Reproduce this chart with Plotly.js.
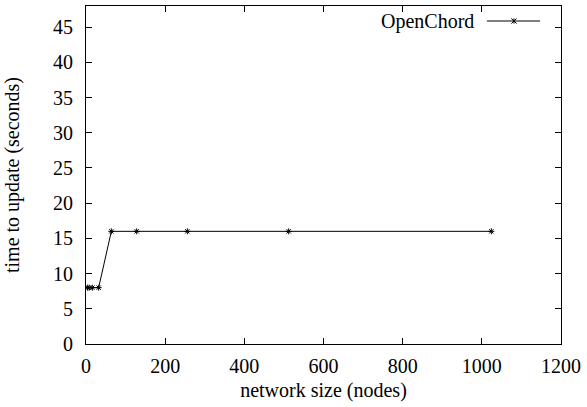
<!DOCTYPE html>
<html><head><meta charset="utf-8">
<script src="https://cdn.plot.ly/plotly-3.0.1.min.js"></script>
<style>body{margin:0;padding:0;background:#fff}#chart{width:587px;height:407px}</style>
</head><body><div id="chart"></div>
<script>
const seriesName = "OpenChord";
const networkSize = [4, 8, 16, 32, 64, 128, 256, 512, 1024];
const updateTime = [8, 8, 8, 8, 16, 16, 16, 16, 16];
const xTicks = [0, 200, 400, 600, 800, 1000, 1200];
const yTicks = [0, 5, 10, 15, 20, 25, 30, 35, 40, 45];

const font = {family: "Liberation Serif, Times New Roman, serif", size: 20, color: "#000"};

const trace = {
  x: networkSize, y: updateTime, type: "scatter", mode: "lines+markers",
  name: seriesName, showlegend: false,
  line: {color: "#000", width: 1},
  marker: {symbol: "asterisk-open", size: 5, color: "#000", line: {color: "#000", width: 1}}
};

const axisCommon = {
  showgrid: false, zeroline: false, showline: true, mirror: "ticks",
  linecolor: "#000", linewidth: 1, ticks: "inside", ticklen: 6, tickcolor: "#000",
  tickfont: font
};

const lx = 0.901, ly = 0.9556, dx = 0.0055, dy = 0.0077;
const layout = {
  width: 587, height: 407,
  margin: {l: 86, r: 26, t: 6, b: 63},
  paper_bgcolor: "#fff", plot_bgcolor: "#fff",
  font: font,
  xaxis: Object.assign({}, axisCommon, {
    range: [0, 1200], tickvals: xTicks, ticktext: xTicks.map(String),
    ticklabelstandoff: 4,
    title: {text: "network size (nodes)", font: font, standoff: 6}
  }),
  yaxis: Object.assign({}, axisCommon, {
    range: [0, 48], tickvals: yTicks, ticktext: yTicks.map(String),
    ticklabelstandoff: 8,
    title: {text: "time to update (seconds)", font: font, standoff: 28}
  }),
  annotations: [{
    xref: "paper", yref: "paper", x: 0.822, y: ly, xanchor: "right", yanchor: "middle",
    text: seriesName, showarrow: false, font: font
  }],
  shapes: [
    {type: "line", xref: "paper", yref: "paper", x0: 0.844, x1: 0.956, y0: ly, y1: ly, line: {color: "#000", width: 1}},
    {type: "line", xref: "paper", yref: "paper", x0: lx, x1: lx, y0: ly - dy, y1: ly + dy, line: {color: "#000", width: 1}},
    {type: "line", xref: "paper", yref: "paper", x0: lx - dx, x1: lx + dx, y0: ly - dy, y1: ly + dy, line: {color: "#000", width: 1}},
    {type: "line", xref: "paper", yref: "paper", x0: lx - dx, x1: lx + dx, y0: ly + dy, y1: ly - dy, line: {color: "#000", width: 1}}
  ]
};

Plotly.newPlot("chart", [trace], layout, {staticPlot: true, displayModeBar: false});
</script></body></html>
